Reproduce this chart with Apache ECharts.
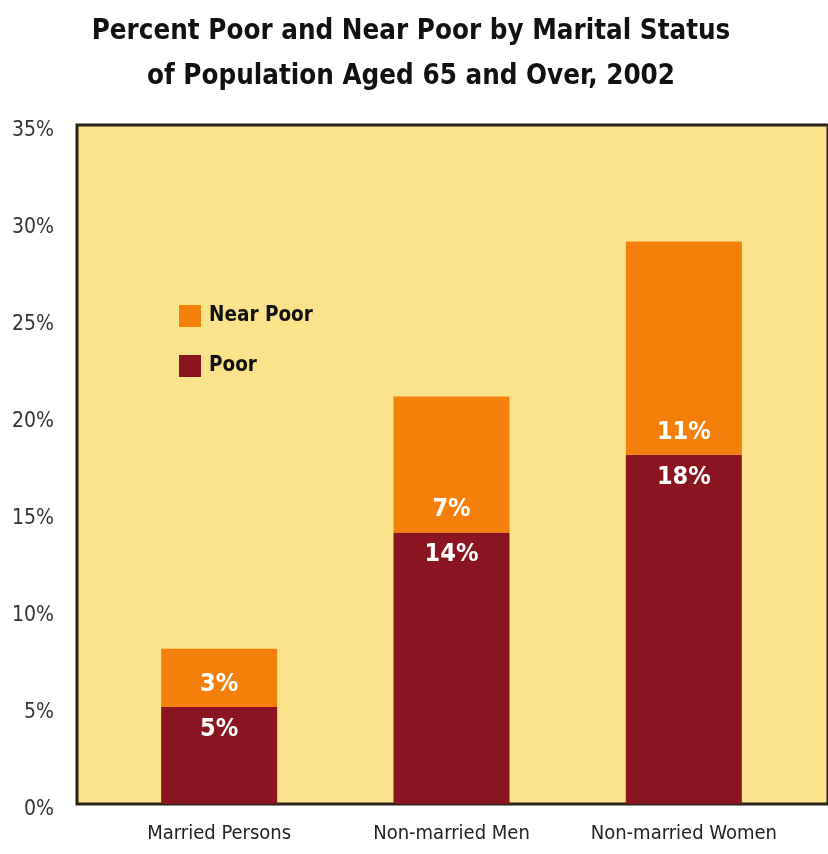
<!DOCTYPE html>
<html>
<head>
<meta charset="utf-8">
<script src="https://cdn.jsdelivr.net/npm/echarts@6/dist/echarts.min.js"></script>
<style>
html,body{margin:0;padding:0;background:#fff;}
#chart{width:828px;height:854px;}
</style>
</head>
<body>
<div id="chart"></div>
<script>
const categories = ['Married Persons', 'Non-married Men', 'Non-married Women'];
const poor = [5, 14, 18];
const nearPoor = [3, 7, 11];
const yTicks = [0, 5, 10, 15, 20, 25, 30, 35];

const condensed = "'Liberation Sans Narrow', 'DejaVu Sans Condensed', 'Roboto Condensed', sans-serif";
const chart = echarts.init(document.getElementById('chart'));
chart.setOption({
  backgroundColor: '#ffffff',
  animation: false,
  title: {
    text: 'Percent Poor and Near Poor by Marital Status\nof Population Aged 65 and Over, 2002',
    left: 406, top: 4, textAlign: 'center',
    textStyle: { fontFamily: condensed, fontWeight: 'bold', fontSize: 27.5, lineHeight: 45, color: '#111' }
  },
  legend: {
    data: ['Near Poor', 'Poor'],
    orient: 'vertical',
    left: 174, top: 300,
    itemWidth: 22, itemHeight: 22, itemGap: 28,
    icon: 'rect',
    textStyle: { fontFamily: condensed, fontWeight: 'bold', fontSize: 20.5, color: '#111', padding: [0, 0, 0, 3] }
  },
  grid: [
    { left: 77, top: 125, right: -6, bottom: 50, show: true, backgroundColor: '#FBE38B', borderColor: '#2b2219', borderWidth: 3, containLabel: false },
    { left: 103, top: 125, right: 28, bottom: 50, containLabel: false }
  ],
  xAxis: [
    { type: 'category', gridIndex: 0, data: categories, show: false },
    {
      type: 'category', gridIndex: 1, data: categories,
      axisLine: { show: false }, axisTick: { show: false },
      axisLabel: { interval: 0, margin: 20, fontFamily: condensed, fontSize: 20, color: '#222' }
    }
  ],
  yAxis: [
    {
      type: 'value', gridIndex: 0, min: 0, max: 35, interval: 5,
      axisLine: { show: false }, axisTick: { show: false }, splitLine: { show: false },
      axisLabel: { margin: 23, fontFamily: condensed, fontSize: 21, color: '#333', verticalAlign: 'top', lineHeight: 12, formatter: v => yTicks.includes(v) ? v + '%' : '' }
    },
    {
      type: 'value', gridIndex: 1, min: 0, max: 35, interval: 5, show: false,
      splitLine: { show: false }
    }
  ],
  series: [
    {
      name: 'Poor', type: 'bar', stack: 'total', xAxisIndex: 1, yAxisIndex: 1,
      data: poor, barWidth: 116,
      itemStyle: { color: '#8A1420' },
      label: { show: true, position: 'insideTop', distance: 10, formatter: '{c}%', color: '#fff', fontFamily: condensed, fontWeight: 'bold', fontSize: 25 }
    },
    {
      name: 'Near Poor', type: 'bar', stack: 'total', xAxisIndex: 1, yAxisIndex: 1,
      data: nearPoor, barWidth: 116,
      itemStyle: { color: '#F57F0B' },
      label: { show: true, position: 'insideBottom', distance: 10, formatter: '{c}%', color: '#fff', fontFamily: condensed, fontWeight: 'bold', fontSize: 25 }
    }
  ]
});
</script>
</body>
</html>
